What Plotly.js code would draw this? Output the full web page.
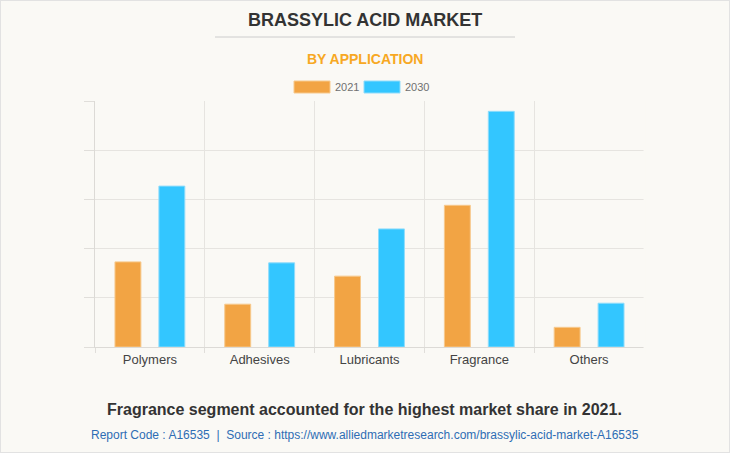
<!DOCTYPE html>
<html>
<head>
<meta charset="utf-8">
<script src="https://cdn.plot.ly/plotly-3.0.1.min.js"></script>
<style>
html,body{margin:0;padding:0;background:#faf9f5;}
#wrap{position:relative;width:730px;height:453px;}
#chart{width:730px;height:453px;}
#frame{position:absolute;left:0;top:0;width:730px;height:453px;box-sizing:border-box;border:1px solid #e2e2e2;pointer-events:none;}
</style>
</head>
<body>
<div id="wrap"><div id="chart"></div><div id="frame"></div></div>
<script>
const categories = ["Polymers", "Adhesives", "Lubricants", "Fragrance", "Others"];
const values2021 = [1.73, 0.87, 1.44, 2.88, 0.40];
const values2030 = [3.27, 1.71, 2.40, 4.79, 0.89];
const seriesNames = ["2021", "2030"];
const colors = ["#f2a444", "#33c6ff"];

const font = "Liberation Sans, Arial, sans-serif";

const traces = [
  {type: "bar", name: seriesNames[0], x: categories, y: values2021,
   marker: {color: colors[0], line: {color: "#f7c98c", width: 1}}, hoverinfo: "x+y"},
  {type: "bar", name: seriesNames[1], x: categories, y: values2030,
   marker: {color: colors[1], line: {color: "#8fdcfb", width: 1}}, hoverinfo: "x+y"}
];

const shapes = [
  {type: "line", xref: "paper", yref: "paper", x0: (215-95)/549, x1: (515-95)/549,
   y0: (453-106-37)/246 , y1: (453-106-37)/246, line: {color: "#cccccc", width: 1}},
  {type: "rect", xref: "paper", yref: "paper", x0: (294-95)/549, x1: (330-95)/549,
   y0: (347-93)/246, y1: (347-81)/246, fillcolor: colors[0], line: {color: "#f7c98c", width: 1}},
  {type: "rect", xref: "paper", yref: "paper", x0: (364-95)/549, x1: (400-95)/549,
   y0: (347-93)/246, y1: (347-81)/246, fillcolor: colors[1], line: {color: "#8fdcfb", width: 1}},
  {type: "line", xref: "paper", yref: "paper", x0: 1.001, x1: 1.001, y0: -0.03, y1: 1,
   line: {color: "#faf9f5", width: 2}, layer: "above"}
];

const annotations = [
  {text: "<b>BRASSYLIC ACID MARKET</b>", xref: "paper", yref: "paper", x: (365-95)/549, y: (347-20)/246,
   showarrow: false, xanchor: "center", yanchor: "middle", font: {family: font, size: 18, color: "#333333"}},
  {text: "<b>BY APPLICATION</b>", xref: "paper", yref: "paper", x: (365-95)/549, y: (347-59)/246,
   showarrow: false, xanchor: "center", yanchor: "middle", font: {family: font, size: 14, color: "#f7a823"}},
  {text: seriesNames[0], xref: "paper", yref: "paper", x: (333-95)/549, y: (347-87)/246,
   showarrow: false, xanchor: "left", yanchor: "middle", font: {family: font, size: 11, color: "#707070"}},
  {text: seriesNames[1], xref: "paper", yref: "paper", x: (403-95)/549, y: (347-87)/246,
   showarrow: false, xanchor: "left", yanchor: "middle", font: {family: font, size: 11, color: "#707070"}},
  {text: "<b>Fragrance segment accounted for the highest market share in 2021.</b>", xref: "paper", yref: "paper",
   x: (364-95)/549, y: (347-409)/246, showarrow: false, xanchor: "center", yanchor: "middle",
   font: {family: font, size: 16, color: "#333333"}},
  {text: "Report Code : A16535  |  Source : https://www.alliedmarketresearch.com/brassylic-acid-market-A16535",
   xref: "paper", yref: "paper", x: (365-95)/549, y: (347-435)/246, showarrow: false, xanchor: "center", yanchor: "middle",
   font: {family: font, size: 12, color: "#2e6db4"}}
];

const layout = {
  width: 730, height: 453,
  margin: {l: 95, r: 86, t: 101, b: 106, pad: 0},
  paper_bgcolor: "#faf9f5", plot_bgcolor: "#faf9f5",
  showlegend: false,
  barmode: "group", bargap: 0.2, bargroupgap: 0.41,
  font: {family: font},
  xaxis: {
    type: "category", tickson: "boundaries", showgrid: true, gridcolor: "#e6e4e0", gridwidth: 1,
    ticks: "outside", ticklen: 5, tickcolor: "#e0deda",
    showline: true, linecolor: "#dcdad6", linewidth: 1,
    tickfont: {family: font, size: 13, color: "#444444"}, fixedrange: true
  },
  yaxis: {
    range: [0, 5], dtick: 1, showgrid: true, gridcolor: "#e6e4e0", gridwidth: 1,
    ticks: "outside", ticklen: 10, tickcolor: "#e0deda", showticklabels: false,
    showline: true, linecolor: "#dcdad6", linewidth: 1, zeroline: false, fixedrange: true
  },
  shapes: shapes,
  annotations: annotations
};

Plotly.newPlot("chart", traces, layout, {displayModeBar: false, staticPlot: true});
</script>
</body>
</html>
